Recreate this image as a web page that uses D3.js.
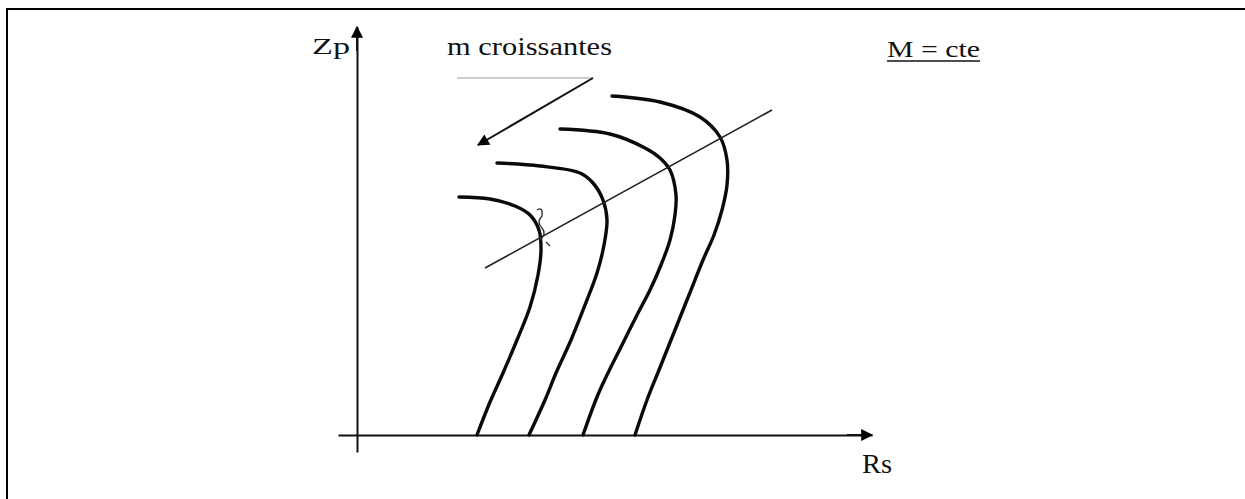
<!DOCTYPE html>
<html lang="fr">
<head>
    <meta charset="UTF-8">
    <title>Zp - Rs</title>
    <script src="https://cdn.jsdelivr.net/npm/d3@7/dist/d3.min.js"></script>
    <style>
        body { margin: 0; background: #fff; }
        svg text { font-family: "Liberation Serif", "DejaVu Serif", serif; fill: #111; }
    </style>
</head>
<body>
    <script>
        //window size
        var w = 1245;
        var h = 499;

        //curves, Rs / Zp in arbitrary units (0..100)
        var curve1Rs = [20.4, 26.6, 31.6, 34.6, 36.4, 36.8, 36.2, 34.6, 32, 29.2, 26.6, 24];
        var curve1Zp = [59.5, 59, 57.25, 55, 51.25, 46.25, 40, 32, 23.75, 15.5, 8.25, 0];

        var curve2Rs = [28, 36.6, 44.6, 47.2, 49.2, 50, 49.4, 48, 45.6, 42.8, 39.8, 37.6, 34.4];
        var curve2Zp = [68, 67.25, 65.5, 63, 58.75, 53.75, 47.5, 40.5, 32.5, 23.75, 15.5, 8.75, 0];

        var curve3Rs = [40.6, 50.6, 57.6, 60.6, 62.6, 63.8, 63.6, 62.6, 60.8, 58.6, 56, 53, 50.2, 48, 45.2];
        var curve3Zp = [76.5, 75.25, 71.75, 69.25, 66.25, 60, 55, 48.75, 42.5, 36.25, 30, 22.5, 15.5, 9.5, 0];

        var curve4Rs = [51, 60.6, 68.6, 72.6, 74, 74, 73, 71.4, 69.2, 66.4, 63.2, 60.4, 58, 55.6];
        var curve4Zp = [84.75, 83.25, 79.5, 74.5, 68.75, 62.5, 56.25, 50, 43.75, 35, 25, 16.25, 8.75, 0];

        //straight line through the knees
        var diagRs = [25.6, 83];
        var diagZp = [41.75, 81.25];

        //"m croissantes" arrow
        var arrowRs = [47.2, 24.2];
        var arrowZp = [89.25, 72.5];
        var underRs = [20, 47.2];
        var underZp = [89.25, 89.25];

        //axis extents
        var rsExtent = [-3.8, 103];
        var zpExtent = [-4.25, 102];

        //labels
        var yLabel = 'Zp';
        var xLabel = 'Rs';
        var noteLabel = 'm croissantes';
        var constLabel = 'M = cte';

        function zip(a, b) {
            return a.map(function(d, i) { return [d, b[i]]; });
        }
        var curves = [zip(curve1Rs, curve1Zp), zip(curve2Rs, curve2Zp),
                      zip(curve3Rs, curve3Zp), zip(curve4Rs, curve4Zp)];

        //scales
        var xScale = d3.scaleLinear().domain([0, 100]).range([357, 857]);
        var yScale = d3.scaleLinear().domain([0, 100]).range([435, 35]);

        //axis scales, a bit longer than the data range
        var xAxisScale = d3.scaleLinear().domain(rsExtent).range(rsExtent.map(xScale));
        var yAxisScale = d3.scaleLinear().domain(zpExtent).range(zpExtent.map(yScale));

        var svg = d3.select('body')
                    .append('svg')
                    .attr('width', w)
                    .attr('height', h);

        //arrow heads
        var defs = svg.append('defs');
        defs.append('marker')
            .attr('id', 'head')
            .attr('viewBox', '0 0 10 10')
            .attr('refX', 9)
            .attr('refY', 5)
            .attr('markerUnits', 'userSpaceOnUse')
            .attr('markerWidth', 16)
            .attr('markerHeight', 12)
            .attr('orient', 'auto')
            .append('path')
            .attr('d', 'M0,0 L10,5 L0,10 Z')
            .attr('fill', '#000');

        //page frame (top and left only)
        svg.append('path')
            .attr('d', 'M7,499 V9 H1245')
            .attr('fill', 'none')
            .attr('stroke', '#000')
            .attr('stroke-width', 2);

        //axes, no ticks
        var xAxis = d3.axisBottom(xAxisScale).tickValues([]).tickSizeOuter(0);
        var yAxis = d3.axisLeft(yAxisScale).tickValues([]).tickSizeOuter(0);

        svg.append('g')
            .attr('class', 'axis')
            .attr('transform', 'translate(0,' + yScale(0) + ')')
            .call(xAxis);
        svg.append('g')
            .attr('class', 'axis')
            .attr('transform', 'translate(' + xScale(0) + ',0)')
            .call(yAxis);

        svg.selectAll('g.axis path.domain')
            .attr('stroke', '#111')
            .attr('stroke-width', 2);

        //arrow tips on axes
        svg.append('line')
            .attr('x1', xAxisScale(98)).attr('y1', yScale(0))
            .attr('x2', xAxisScale(rsExtent[1])).attr('y2', yScale(0))
            .attr('stroke', '#111').attr('stroke-width', 2)
            .attr('marker-end', 'url(#head)');
        svg.append('line')
            .attr('x1', xScale(0)).attr('y1', yAxisScale(96))
            .attr('x2', xScale(0)).attr('y2', yAxisScale(zpExtent[1]))
            .attr('stroke', '#111').attr('stroke-width', 2)
            .attr('marker-end', 'url(#head)');

        //curves
        var line = d3.line()
                    .x(function(d) { return xScale(d[0]); })
                    .y(function(d) { return yScale(d[1]); })
                    .curve(d3.curveCatmullRom);

        svg.selectAll('path.curve')
            .data(curves)
            .enter()
            .append('path')
            .attr('class', 'curve')
            .attr('d', line)
            .attr('fill', 'none')
            .attr('stroke', '#0a0a0a')
            .attr('stroke-width', 3.4)
            .attr('stroke-linecap', 'round');

        //diagonal
        svg.append('path')
            .attr('d', line(zip(diagRs, diagZp)))
            .attr('fill', 'none')
            .attr('stroke', '#222')
            .attr('stroke-width', 1.6);

        //small scribble on first curve
        svg.append('path')
            .attr('d', 'M537,210 q6,-4 5,6 q-6,6 0,12 q5,6 -2,12 M546,242 l4,4')
            .attr('fill', 'none')
            .attr('stroke', '#333')
            .attr('stroke-width', 1.4);

        //faint line under the note
        svg.append('path')
            .attr('d', line(zip(underRs, underZp)))
            .attr('fill', 'none')
            .attr('stroke', '#999')
            .attr('stroke-width', 1.2);

        //arrow "m croissantes"
        svg.append('line')
            .attr('x1', xScale(arrowRs[0])).attr('y1', yScale(arrowZp[0]))
            .attr('x2', xScale(arrowRs[1])).attr('y2', yScale(arrowZp[1]))
            .attr('stroke', '#111')
            .attr('stroke-width', 2)
            .attr('marker-end', 'url(#head)');

        //texts
        function label(x, y, size, len, txt) {
            return svg.append('text')
                .attr('x', x).attr('y', y)
                .attr('font-family', '"Liberation Serif", "DejaVu Serif", serif')
                .attr('font-size', size + 'px')
                .attr('textLength', len)
                .attr('lengthAdjust', 'spacingAndGlyphs')
                .text(txt);
        }
        label(312, 54, 23, 38, yLabel);
        label(862, 473, 28, 30, xLabel);
        label(447, 55, 26, 165, noteLabel);
        label(887, 57, 24, 93, constLabel);

        svg.append('line')
            .attr('x1', 887).attr('y1', 61)
            .attr('x2', 980).attr('y2', 61)
            .attr('stroke', '#111')
            .attr('stroke-width', 1.6);
    </script>
</body>
</html>
